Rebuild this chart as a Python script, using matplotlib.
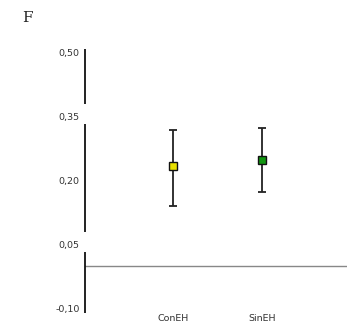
import matplotlib.pyplot as plt
import matplotlib.transforms as mtransforms

# group means with lower / upper interval limits
groups = ['ConEH', 'SinEH']
positions = [1, 2]
means = [0.233, 0.247]
lower = [0.139, 0.173]
upper = [0.317, 0.322]
colors = ['#e8e000', '#119611']

yticks = [-0.10, 0.05, 0.20, 0.35, 0.50]
ytick_labels = ['-0,10', '0,05', '0,20', '0,35', '0,50']

fig = plt.figure(figsize=(3.47, 3.32), dpi=100)
ax = fig.add_axes([0.245, 0.055, 0.755, 0.8])

for x, m, lo, hi, c in zip(positions, means, lower, upper, colors):
    ax.errorbar(x, m, yerr=[[m - lo], [hi - m]], fmt='none', ecolor='#222222',
                elinewidth=1.3, capsize=3.2, capthick=1.3, zorder=2)
    ax.plot(x, m, marker='s', markersize=6, markerfacecolor=c,
            markeredgecolor='#111111', markeredgewidth=1.0, linestyle='none', zorder=3)

ax.axhline(0, color='#888888', linewidth=1.0, zorder=1)

ax.set_xlim(0.01, 2.95)
ax.set_ylim(-0.113, 0.51)

for s in ax.spines.values():
    s.set_visible(False)

# left axis drawn in pieces, broken around two of the labels
trans = mtransforms.blended_transform_factory(ax.transAxes, ax.transData)
for y0, y1 in [(0.378, 0.508), (0.079, 0.332), (-0.112, 0.031)]:
    ax.plot([0, 0], [y0, y1], color='#111111', linewidth=1.3, transform=trans,
            clip_on=False, solid_capstyle='butt')

ax.set_yticks(yticks)
ax.set_yticklabels(ytick_labels)
ax.set_xticks(positions)
ax.set_xticklabels(groups)
ax.tick_params(axis='y', length=0, pad=4, labelsize=6.8, labelcolor='#333333')
ax.tick_params(axis='x', length=0, pad=0.5, labelsize=6.8, labelcolor='#333333')

fig.text(0.065, 0.945, 'F', family='DejaVu Serif', fontsize=11, color='#222222',
         ha='left', va='center')

fig.savefig('out.png', dpi=100)
